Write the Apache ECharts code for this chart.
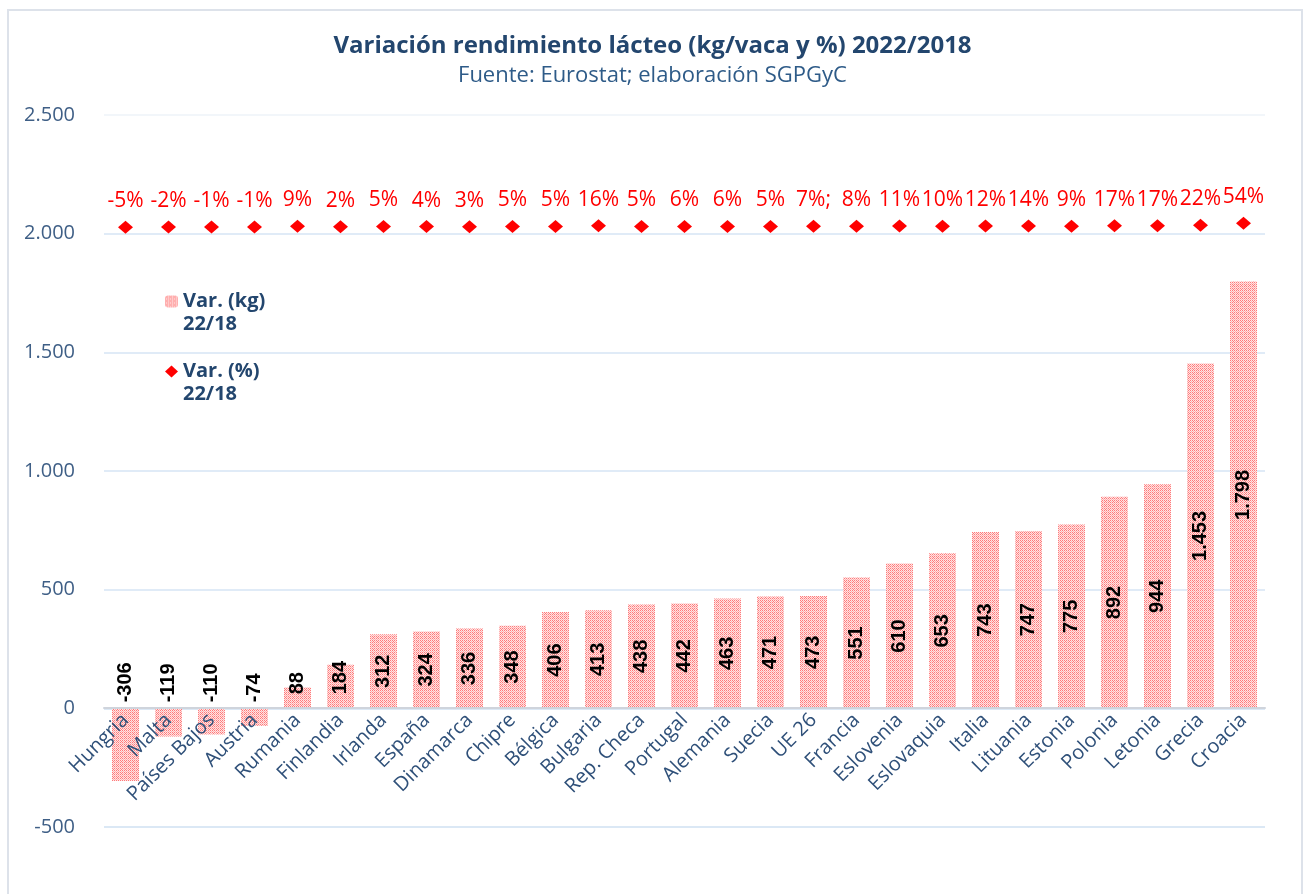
<!DOCTYPE html>
<html>
<head>
<meta charset="utf-8">
<script src="https://cdn.jsdelivr.net/npm/echarts@6/dist/echarts.min.js"></script>
<style>
    html, body { margin: 0; padding: 0; background: #fff; }
    #chartBar { width: 1305px; height: 894px; }
</style>
</head>
<body>
<div id="chartBar"></div>
<script>
    // datos: variación rendimiento lácteo 2022/2018
    const paises = ['Hungria', 'Malta', 'Países Bajos', 'Austria', 'Rumania', 'Finlandia', 'Irlanda', 'España',
        'Dinamarca', 'Chipre', 'Bélgica', 'Bulgaria', 'Rep. Checa', 'Portugal', 'Alemania', 'Suecia', 'UE 26',
        'Francia', 'Eslovenia', 'Eslovaquia', 'Italia', 'Lituania', 'Estonia', 'Polonia', 'Letonia', 'Grecia', 'Croacia']
    const varKg = [-306, -119, -110, -74, 88, 184, 312, 324, 336, 348, 406, 413, 438, 442, 463, 471, 473,
        551, 610, 653, 743, 747, 775, 892, 944, 1453, 1798]
    const varPct = [-5, -2, -1, -1, 9, 2, 5, 4, 3, 5, 5, 16, 5, 6, 6, 5, 7, 8, 11, 10, 12, 14, 9, 17, 17, 22, 54]
    const etiquetasPct = ['-5%', '-2%', '-1%', '-1%', '9%', '2%', '5%', '4%', '3%', '5%', '5%', '16%', '5%', '6%',
        '6%', '5%', '7%;', '8%', '11%', '10%', '12%', '14%', '9%', '17%', '17%', '22%', '54%']
    const ticksY = [-500, 0, 500, 1000, 1500, 2000, 2500]
    const periodo = '22/18'

    function formatoMiles(v) {
        return String(v).replace(/\B(?=(\d{3})+(?!\d))/g, '.')
    }

    // trama punteada de las barras
    function trama() {
        const c = document.createElement('canvas')
        c.width = 4
        c.height = 4
        const ctx = c.getContext('2d')
        ctx.fillStyle = '#ffe4e4'
        ctx.fillRect(0, 0, 4, 4)
        for (let y = 0; y < 4; y++) {
            for (let x = 0; x < 4; x++) {
                if ((x + y) % 2 === 0) {
                    ctx.fillStyle = (x === 3 || y === 3) ? '#ffb0b0' : '#ff7a7a'
                    ctx.fillRect(x, y, 1, 1)
                }
            }
        }
        return c
    }
    const relleno = { image: trama(), repeat: 'repeat' }

    const datosBarras = varKg.map(v => {
        const item = { value: v }
        if (v < 0) {
            item.label = { position: 'top', distance: 6, align: 'left', verticalAlign: 'middle' }
        } else if (v < 250) {
            item.label = { position: 'insideBottom', distance: 14, align: 'left', verticalAlign: 'middle' }
        }
        return item
    })

    const estiloLeyenda = { fontFamily: 'Open Sans', fontSize: 20, fontWeight: 'bold', fill: '#23466e' }

    const myChart = echarts.init(document.getElementById('chartBar'))
    const option = {
        animation: false,
        textStyle: { fontFamily: 'Open Sans' },
        title: {
            text: 'Variación rendimiento lácteo (kg/vaca y %) 2022/2018',
            subtext: 'Fuente: Eurostat; elaboración SGPGyC',
            left: 'center',
            top: 27,
            itemGap: 3,
            textStyle: { fontFamily: 'Open Sans', fontSize: 24, fontWeight: 'bold', color: '#23466e', lineHeight: 28 },
            subtextStyle: { fontFamily: 'Open Sans', fontSize: 22, color: '#2e5b88', lineHeight: 26 }
        },
        legend: {
            orient: 'vertical',
            left: 160,
            top: 284,
            itemGap: 45,
            itemWidth: 13,
            itemHeight: 12,
            formatter: name => name.replace(' ' + periodo, ''),
            textStyle: {
                fontFamily: 'Open Sans', fontSize: 20, fontWeight: 'bold', color: '#23466e', lineHeight: 25
            },
            data: [
                { name: 'Var. (kg) ' + periodo },
                { name: 'Var. (%) ' + periodo, icon: 'diamond' }
            ]
        },
        graphic: [{
            type: 'rect',
            shape: { x: 8, y: 10, width: 1294, height: 900 },
            style: { fill: 'none', stroke: '#dde2ea', lineWidth: 2 },
            silent: true,
            z: -10
        }, {
            // segunda línea de cada entrada de la leyenda
            type: 'text',
            left: 183,
            top: 314,
            style: Object.assign({ text: periodo }, estiloLeyenda)
        }, {
            type: 'text',
            left: 183,
            top: 384,
            style: Object.assign({ text: periodo }, estiloLeyenda)
        }],
        grid: { left: 104, right: 40, top: 115, bottom: 67, outerBoundsMode: 'none' },
        xAxis: {
            type: 'category',
            data: paises,
            offset: -119,
            z: 10,
            axisTick: { show: false },
            axisLine: { onZero: false, lineStyle: { color: '#cfd4dc', width: 2 } },
            axisLabel: {
                interval: 0,
                rotate: 45,
                margin: 9,
                fontFamily: 'Open Sans',
                fontSize: 20,
                color: '#2f5079'
            }
        },
        yAxis: [{
            type: 'value',
            min: ticksY[0],
            max: ticksY[ticksY.length - 1],
            interval: 500,
            axisLine: { show: false },
            axisTick: { show: false },
            axisLabel: {
                margin: 29,
                fontFamily: 'Open Sans',
                fontSize: 20,
                color: '#3f5f86',
                formatter: v => formatoMiles(v)
            },
            splitLine: {
                lineStyle: {
                    color: ['#cfe0f2', '#cfe0f2', '#d6e5f4', '#d6e5f4', '#d6e5f4', '#d6e5f4', '#eef3f9'],
                    width: 1.5
                }
            }
        }, {
            type: 'value',
            show: false,
            min: -8800,
            max: 1640,
            splitLine: { show: false }
        }],
        series: [{
            name: 'Var. (kg) ' + periodo,
            type: 'bar',
            data: datosBarras,
            barWidth: 27,
            itemStyle: { color: relleno },
            label: {
                show: true,
                position: 'inside',
                rotate: 90,
                fontFamily: 'Liberation Sans',
                fontSize: 20,
                fontWeight: 'bold',
                color: '#000',
                formatter: p => formatoMiles(p.value)
            }
        }, {
            name: 'Var. (%) ' + periodo,
            type: 'scatter',
            yAxisIndex: 1,
            data: varPct,
            symbol: 'diamond',
            symbolSize: [15, 13],
            itemStyle: { color: '#ff0000', opacity: 1 },
            label: {
                show: true,
                position: 'top',
                distance: 9,
                fontFamily: 'Open Sans',
                fontSize: 21,
                color: '#ff0000',
                formatter: p => etiquetasPct[p.dataIndex]
            }
        }]
    }
    myChart.setOption(option)
    window.addEventListener('resize', () => myChart.resize(), false)
</script>
</body>
</html>
